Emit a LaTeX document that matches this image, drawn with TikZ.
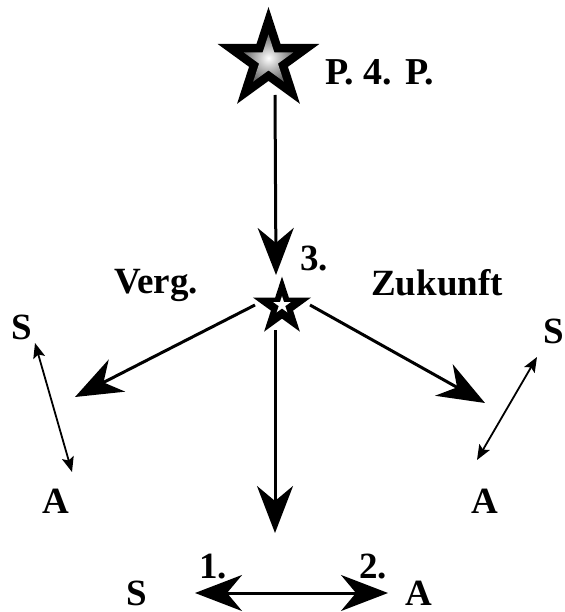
\documentclass[tikz,border=0pt]{standalone}
\usepackage{fontspec}
\setmainfont{Liberation Serif}
\usetikzlibrary{arrows.meta,shapes.geometric}

\tikzset{
  lbl/.style={font=\fontsize{37}{42}\selectfont\bfseries,inner sep=0pt,anchor=base west},
  bighead/.tip={Stealth[length=47pt,width=36pt,inset=15pt]},
  smallhead/.tip={Stealth[length=15pt,width=12pt,inset=3pt]},
  bigarrow/.style={line width=3pt,-bighead},
  smallarrow/.style={line width=1.8pt,smallhead-smallhead},
  starshape/.style={star,star points=5,star point ratio=2.618,inner sep=0pt}
}

\begin{document}
\begin{tikzpicture}[x=1pt,y=-1pt]
  \useasboundingbox (0,0) rectangle (564,612);

% stars
  \node[starshape,minimum size=107pt,fill=black] (bigstar) at (268.5,60.5) {};
  \node[starshape,minimum size=52pt,inner color=white,outer color=gray!85!black] (bigcore) at (268.5,60.5) {};
  \node[starshape,minimum size=61pt,fill=black] (smallstar) at (282,307) {};
  \node[starshape,minimum size=18pt,fill=white] (smallcore) at (282,305) {};

% labels
  \node[lbl,font=\fontsize{38}{42}\selectfont\bfseries] (p4p) at (325,85) {P. 4. P.};
  \node[lbl] (three) at (300,270) {3.};
  \node[lbl] (verg) at (114,293) {Verg.};
  \node[lbl] (zuk) at (371,295) {Zukunft};
  \node[lbl] (sL) at (11,339) {S};
  \node[lbl] (aL) at (42,513) {A};
  \node[lbl,anchor=base east] (sR) at (564,343) {S};
  \node[lbl] (aR) at (471,513) {A};
  \node[lbl] (one) at (199,578) {1.};
  \node[lbl] (two) at (359,578) {2.};
  \node[lbl] (sB) at (126,605) {S};
  \node[lbl] (aB) at (405,605) {A};

% arrow ends
  \coordinate (top0) at (275,95);   \coordinate (top1) at (276,275);
  \coordinate (left0) at (255,305); \coordinate (left1) at (75,397);
  \coordinate (right0) at (310,305);\coordinate (right1) at (485,403);
  \coordinate (down0) at (275,330); \coordinate (down1) at (275,533);
  \coordinate (bot0) at (195,593);  \coordinate (bot1) at (388,593);
  \coordinate (ls0) at (35,343);    \coordinate (ls1) at (72,472);
  \coordinate (rs0) at (537,357);   \coordinate (rs1) at (477,460);

% arrows
  \draw[bigarrow] (top0) -- (top1);
  \draw[bigarrow] (left0) -- (left1);
  \draw[bigarrow] (right0) -- (right1);
  \draw[bigarrow] (down0) -- (down1);
  \draw[bigarrow,bighead-bighead] (bot0) -- (bot1);
  \draw[smallarrow] (ls0) -- (ls1);
  \draw[smallarrow] (rs0) -- (rs1);
\end{tikzpicture}
\end{document}
